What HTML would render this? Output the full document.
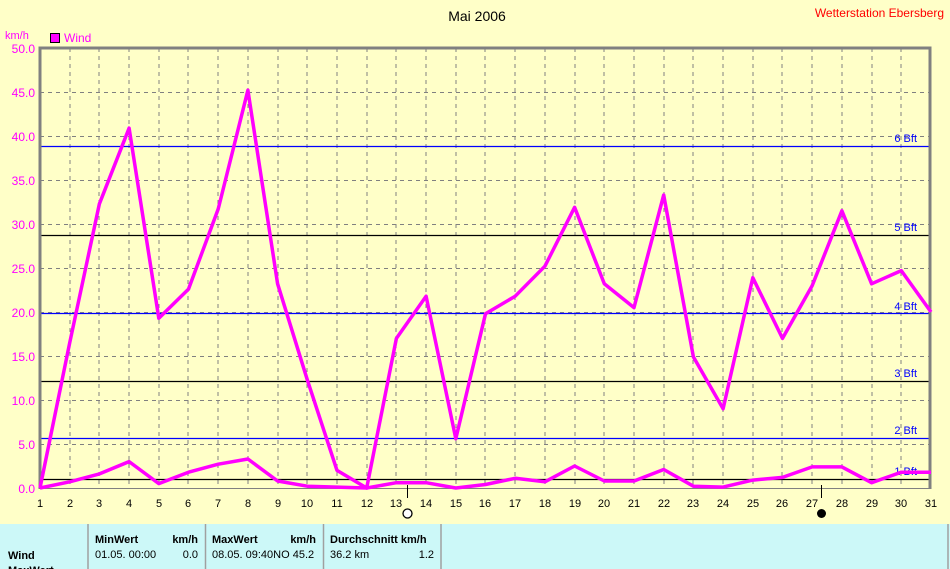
<!DOCTYPE html>
<html><head><meta charset="utf-8"><style>
html,body{margin:0;padding:0;background:#ffffc8;}
svg{display:block;font-family:"Liberation Sans",sans-serif;}
</style></head><body>
<svg width="950" height="569" viewBox="0 0 950 569" xmlns="http://www.w3.org/2000/svg">
<rect width="950" height="569" fill="#ffffc8"/>
<text x="477" y="21" font-size="14" text-anchor="middle" fill="#000">Mai 2006</text>
<text x="944" y="17" font-size="12" text-anchor="end" fill="#ff0000">Wetterstation Ebersberg</text>
<text x="5" y="39" font-size="11" fill="#ff00ff">km/h</text>
<rect x="50.5" y="33.5" width="9" height="9" fill="#ff00ff" stroke="#000"/>
<text x="64" y="42" font-size="12" fill="#ff00ff">Wind</text>
<g stroke="#808080" stroke-dasharray="4,4" stroke-width="1">
<path d="M40 92.5H930M40 136.5H930M40 180.5H930M40 224.5H930M40 268.5H930M40 312.5H930M40 356.5H930M40 400.5H930M40 444.5H930"/>
<path id="v" d="M70 48V488M99 48V488M129 48V488M159 48V488M188 48V488M218 48V488M248 48V488M278 48V488M307 48V488M337 48V488M367 48V488M396 48V488M426 48V488M456 48V488M485 48V488M515 48V488M545 48V488M575 48V488M604 48V488M634 48V488M664 48V488M693 48V488M723 48V488M753 48V488M782 48V488M812 48V488M842 48V488M872 48V488M901 48V488"/>
</g>
<g stroke-width="1.2">
<line x1="40" y1="146.5" x2="930" y2="146.5" stroke="#0000ff"/>
<line x1="40" y1="235.5" x2="930" y2="235.5" stroke="#000"/>
<line x1="40" y1="313.5" x2="930" y2="313.5" stroke="#0000ff"/>
<line x1="40" y1="381.5" x2="930" y2="381.5" stroke="#000"/>
<line x1="40" y1="438.5" x2="930" y2="438.5" stroke="#0000ff"/>
<line x1="40" y1="479.5" x2="930" y2="479.5" stroke="#000"/>
</g>
<g font-size="11" fill="#0000ff" text-anchor="end">
<text x="917" y="142">6 Bft</text><text x="917" y="231">5 Bft</text><text x="917" y="310">4 Bft</text>
<text x="917" y="377">3 Bft</text><text x="917" y="434">2 Bft</text><text x="917" y="475">1 Bft</text>
</g>
<path d="M40 489V48H930V489" fill="none" stroke="#808080" stroke-width="3"/>
<line x1="40" y1="488.5" x2="930" y2="488.5" stroke="#808080" stroke-width="1"/>
<g font-size="12" fill="#ff00ff" text-anchor="end">
<text x="35" y="53">50.0</text><text x="35" y="97">45.0</text><text x="35" y="141">40.0</text><text x="35" y="185">35.0</text>
<text x="35" y="229">30.0</text><text x="35" y="273">25.0</text><text x="35" y="317">20.0</text><text x="35" y="361">15.0</text>
<text x="35" y="405">10.0</text><text x="35" y="449">5.0</text><text x="35" y="493">0.0</text>
</g>
<g font-size="11" fill="#000" text-anchor="middle">
<text x="40" y="507">1</text><text x="70" y="507">2</text><text x="99" y="507">3</text><text x="129" y="507">4</text><text x="159" y="507">5</text><text x="188" y="507">6</text><text x="218" y="507">7</text><text x="248" y="507">8</text><text x="278" y="507">9</text><text x="307" y="507">10</text><text x="337" y="507">11</text><text x="367" y="507">12</text><text x="396" y="507">13</text><text x="426" y="507">14</text><text x="456" y="507">15</text><text x="485" y="507">16</text><text x="515" y="507">17</text><text x="545" y="507">18</text><text x="575" y="507">19</text><text x="604" y="507">20</text><text x="634" y="507">21</text><text x="664" y="507">22</text><text x="693" y="507">23</text><text x="723" y="507">24</text><text x="753" y="507">25</text><text x="782" y="507">26</text><text x="812" y="507">27</text><text x="842" y="507">28</text><text x="872" y="507">29</text><text x="901" y="507">30</text><text x="931" y="507">31</text>
</g>
<line x1="407.5" y1="485" x2="407.5" y2="498" stroke="#000"/>
<circle cx="407.5" cy="513.5" r="4.5" fill="#fff" stroke="#000" stroke-width="1.3"/>
<line x1="821.5" y1="485" x2="821.5" y2="498" stroke="#000"/>
<circle cx="821.5" cy="513.5" r="4.5" fill="#000"/>
<g fill="none" stroke="#ff00ff" stroke-width="3.5" stroke-linejoin="round">
<polyline points="40,488 69.7,342.8 99.4,203.8 129.1,128.1 158.8,318.2 188.5,289.1 218.2,209 247.9,90.2 277.6,283.8 307.3,379.8 337,470.4 366.7,488 396.4,338.4 426.1,296.2 455.8,438.7 485.5,313.8 515.2,296.2 544.9,266.2 574.6,207.3 604.3,283.8 634,307.6 663.7,195 693.4,356.9 723.1,408.8 752.8,277.7 782.5,338.4 812.2,285.6 841.9,210.8 871.6,283.8 901.3,270.6 931,312"/>
<polyline points="40,488 69.7,481.8 99.4,473.9 129.1,461.6 158.8,483.6 188.5,472.2 218.2,464.2 247.9,459 277.6,481 307.3,486.2 337,487.1 366.7,488 396.4,482.7 426.1,482.7 455.8,488 485.5,484.5 515.2,478.3 544.9,481.8 574.6,466 604.3,481 634,481 663.7,469.5 693.4,486.2 723.1,487.1 752.8,480.1 782.5,477.4 812.2,466.9 841.9,466.9 871.6,482.7 901.3,472.2 931,472.2"/>
</g>
<rect x="0" y="524" width="950" height="45" fill="#ccf8f8"/>
<g stroke="#a0a0a0" stroke-width="1.5">
<line x1="88" y1="524" x2="88" y2="569"/><line x1="205.5" y1="524" x2="205.5" y2="569"/>
<line x1="323.5" y1="524" x2="323.5" y2="569"/><line x1="441" y1="524" x2="441" y2="569"/>
<line x1="948" y1="524" x2="948" y2="569"/>
</g>
<g font-size="11" fill="#000">
<text x="95" y="543" font-weight="bold">MinWert</text><text x="198" y="543" font-weight="bold" text-anchor="end">km/h</text>
<text x="212" y="543" font-weight="bold">MaxWert</text><text x="316" y="543" font-weight="bold" text-anchor="end">km/h</text>
<text x="330" y="543" font-weight="bold">Durchschnitt km/h</text>
<text x="8" y="559" font-weight="bold">Wind</text>
<text x="95" y="558">01.05.  00:00</text><text x="198" y="558" text-anchor="end">0.0</text>
<text x="212" y="558">08.05.  09:40NO 45.2</text>
<text x="330" y="558">36.2 km</text><text x="434" y="558" text-anchor="end">1.2</text>
<text x="8" y="574" font-weight="bold">MaxWert</text>
</g>
</svg>
</body></html>
